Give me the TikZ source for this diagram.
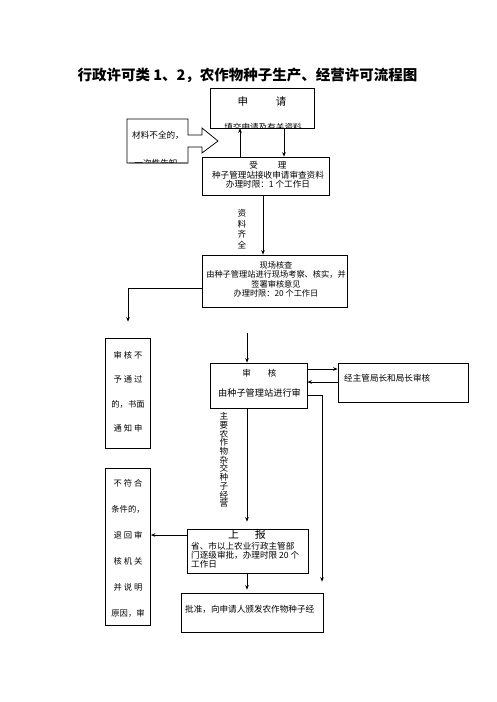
\documentclass[tikz,border=0pt]{standalone}
\usepackage{fontspec}
\setmainfont{Noto Sans CJK SC}
\usetikzlibrary{arrows.meta}

\tikzset{
  box/.style={draw, line width=0.75pt, inner sep=0pt},
  txt/.style={inner sep=0pt, font=\fontsize{8.6}{9.6}\selectfont},
  big/.style={inner sep=0pt, font=\fontsize{10.5}{12}\selectfont},
  flow/.style={line width=0.75pt, -{Stealth[length=4.5pt,width=3.6pt]}},
}

\begin{document}
\begin{tikzpicture}[x=1pt, y=-1pt]
  \useasboundingbox[fill=white] (0,0) rectangle (496,702);

  % title
  \node[inner sep=0pt, font=\fontsize{14.5}{16}\selectfont\bfseries] (title) at (247.5,75) {行政许可类 1、2，农作物种子生产、经营许可流程图};

  % boxes
  \node[box, minimum width=104pt, minimum height=40pt] (shenqing) at (262,108) {};
  \node[box, minimum width=127pt, minimum height=38pt] (shouli) at (265.5,176) {};
  \node[box, minimum width=145pt, minimum height=52pt] (xianchang) at (274.5,281) {};
  \node[box, minimum width=45pt, minimum height=110pt] (shenhebu) at (128,393) {};
  \node[box, minimum width=97pt, minimum height=45pt] (shenhe) at (258.5,385.5) {};
  \node[box, minimum width=130pt, minimum height=39pt] (juzhang) at (403,383) {};
  \node[box, minimum width=45pt, minimum height=157pt] (bufuhe) at (128,546.5) {};
  \node[box, minimum width=121pt, minimum height=44pt] (shangbao) at (247.5,551) {};
  \node[box, minimum width=142pt, minimum height=39pt] (pizhun) at (252,612.5) {};

  % callout with arrow (materials incomplete)
  \draw[line width=0.75pt] (127,119) -- (188,119) -- (188,135) -- (202,135) -- (202,128) -- (218,141)
    -- (202,153) -- (202,147) -- (188,147) -- (188,163) -- (127,163) -- cycle;
  \draw[gray, line width=1.3pt] (129,163) -- (188,163);
  \node[txt] (cailiao) at (158,135) {材料不全的，};
  \begin{scope}
    \clip (127,119) rectangle (188,162.3);
    \node[txt] (gaozhi) at (156,163) {一次性告知};
  \end{scope}

  % texts in boxes
  \node[big] (shenqingT) at (262,102) {申\hspace{28pt}请};
  \begin{scope}
    \clip (210,88) rectangle (314,127.6);
    \node[txt] (shenqingS) at (263,127.5) {填交申请及有关资料};
  \end{scope}
  \node[txt, align=center] (shouliT) at (268,175) {受\hspace{20pt}理\\种子管理站接收申请审查资料\\办理时限：1 个工作日};
  \node[txt, align=center, font=\fontsize{8.2}{9.4}\selectfont] (xianchangT) at (276,279.5) {现场核查\\由种子管理站进行现场考察、核实，并\\签署审核意见\\办理时限：20 个工作日};
  \node[txt, align=center, font=\fontsize{8.3}{24.5}\selectfont] (shenhebuT) at (128,392) {审 核 不\\予 通 过\\的，书面\\通 知 申};
  \node[txt] (shenheT) at (259.5,373) {审\hspace{17pt}核};
  \node[txt, font=\fontsize{9.2}{10}\selectfont] (shenheS) at (259.5,393) {由种子管理站进行审};
  \node[txt, anchor=west] (juzhangT) at (344,378) {经主管局长和局长审核};
  \node[txt, align=center, font=\fontsize{8.3}{26}\selectfont] (bufuheT) at (128,548) {不 符 合\\条件的，\\退 回 审\\核 机 关\\并 说 明\\原因，审};
  \node[big, font=\fontsize{11}{12}\selectfont] (shangbaoT) at (247,534.5) {上\hspace{16pt}报};
  \node[txt, anchor=west, align=left, font=\fontsize{8.6}{9}\selectfont] (shangbaoS) at (191,555.5) {省、市以上农业行政主管部\\门逐级审批，办理时限 20 个\\工作日};
  \node[txt, anchor=west] (pizhunT) at (185,609) {批准，向申请人颁发农作物种子经};

  % vertical labels
  \node[txt, align=center, font=\fontsize{8.6}{10.7}\selectfont] (qiquan) at (242,229) {资\\料\\齐\\全};
  \node[txt, align=center, font=\fontsize{8.6}{8.7}\selectfont] (jingying) at (224,460) {主\\要\\农\\作\\物\\杂\\交\\种\\子\\经\\营};

  % connectors
  \draw[flow] (shouli.north -| 240,0) -- (shenqing.south -| 240,0);
  \draw[flow] (shenqing.south -| 284,0) -- (shouli.north -| 284,0);
  \draw[flow] (shouli.south -| 263,0) -- (xianchang.north -| 263,0);
  \draw[flow, shorten >=16pt] (xianchang.west |- 0,288) -| (shenhebu.north);
  \coordinate (gap) at (247,333);
  \draw[flow] (gap) -- (shenhe.north -| gap);
  \draw[flow] (shenhe.east |- 0,369) -- (juzhang.west |- 0,369);
  \draw[flow] (juzhang.west |- 0,382) -- (shenhe.east |- 0,382);
  \draw[flow, shorten >=11pt] (shenhe.east |- 0,395) -| (pizhun.north -| 322,0);
  \draw[flow, shorten >=7pt] (shenhe.south -| gap) -- (shangbao.north -| gap);
  \draw[flow] (shangbao.west |- 0,535) -- (bufuhe.east |- 0,535);
  \draw[flow, shorten >=3pt] (shangbao.south -| gap) -- (pizhun.north -| gap);
\end{tikzpicture}
\end{document}
